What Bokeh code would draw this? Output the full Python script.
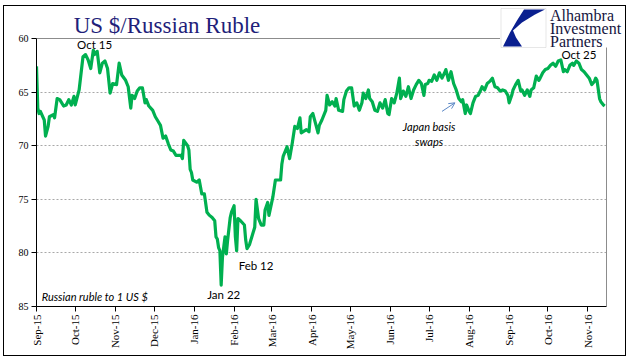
import pandas as pd
from math import pi
from bokeh.plotting import figure
from bokeh.layouts import column
from bokeh.models import (Range1d, FixedTicker, MonthsTicker, DatetimeTickFormatter,
                          Label, Arrow, OpenHead, BoxAnnotation, PolyAnnotation,
                          ColumnDataSource, Grid)
from bokeh.embed import file_html
from bokeh.resources import INLINE

# ---------------- data ----------------
dates = [
    "2015-09-01", "2015-09-02", "2015-09-03", "2015-09-04", "2015-09-07", "2015-09-08",
    "2015-09-10", "2015-09-11", "2015-09-14", "2015-09-15", "2015-09-17", "2015-09-19",
    "2015-09-22", "2015-09-24", "2015-09-26", "2015-09-28", "2015-09-30",
    "2015-10-01", "2015-10-04", "2015-10-07", "2015-10-09", "2015-10-11", "2015-10-13",
    "2015-10-15", "2015-10-16", "2015-10-18", "2015-10-20", "2015-10-22", "2015-10-24",
    "2015-10-26", "2015-10-28", "2015-10-30",
    "2015-11-02", "2015-11-04", "2015-11-06", "2015-11-09", "2015-11-11", "2015-11-13",
    "2015-11-14", "2015-11-16", "2015-11-18", "2015-11-20", "2015-11-22", "2015-11-24",
    "2015-11-25", "2015-11-27", "2015-11-30",
    "2015-12-02", "2015-12-04", "2015-12-06", "2015-12-08", "2015-12-10", "2015-12-12",
    "2015-12-14", "2015-12-16", "2015-12-18", "2015-12-22", "2015-12-23", "2015-12-24",
    "2015-12-27", "2015-12-28", "2015-12-29", "2015-12-30", "2015-12-31",
    "2016-01-03", "2016-01-05", "2016-01-07", "2016-01-09", "2016-01-11", "2016-01-13",
    "2016-01-15", "2016-01-17", "2016-01-18", "2016-01-19", "2016-01-20", "2016-01-21",
    "2016-01-22", "2016-01-23", "2016-01-25", "2016-01-26", "2016-01-27", "2016-01-29",
    "2016-01-30",
    "2016-02-01", "2016-02-02", "2016-02-03", "2016-02-04", "2016-02-06", "2016-02-09",
    "2016-02-10", "2016-02-11", "2016-02-13", "2016-02-15", "2016-02-17", "2016-02-18",
    "2016-02-20", "2016-02-22", "2016-02-24", "2016-02-25", "2016-02-27", "2016-02-28",
    "2016-03-02", "2016-03-04", "2016-03-08", "2016-03-09", "2016-03-10", "2016-03-13",
    "2016-03-15", "2016-03-17", "2016-03-19", "2016-03-21", "2016-03-23", "2016-03-24",
    "2016-03-28", "2016-03-30", "2016-03-31",
    "2016-04-02", "2016-04-04", "2016-04-06", "2016-04-07", "2016-04-09", "2016-04-12",
    "2016-04-13", "2016-04-15", "2016-04-17", "2016-04-19", "2016-04-20", "2016-04-22",
    "2016-04-25", "2016-04-26", "2016-04-28", "2016-04-30",
    "2016-05-02", "2016-05-04", "2016-05-06", "2016-05-08", "2016-05-10", "2016-05-11",
    "2016-05-13", "2016-05-15", "2016-05-16", "2016-05-18", "2016-05-20", "2016-05-22",
    "2016-05-24", "2016-05-26", "2016-05-28", "2016-05-30", "2016-05-31",
    "2016-06-02", "2016-06-04", "2016-06-06", "2016-06-08", "2016-06-09", "2016-06-11",
    "2016-06-13", "2016-06-15", "2016-06-17", "2016-06-19", "2016-06-21", "2016-06-23",
    "2016-06-25", "2016-06-27", "2016-06-28", "2016-06-30",
    "2016-07-01", "2016-07-03", "2016-07-05", "2016-07-07", "2016-07-09", "2016-07-11",
    "2016-07-13", "2016-07-14", "2016-07-16", "2016-07-18", "2016-07-20", "2016-07-22",
    "2016-07-24", "2016-07-26", "2016-07-27", "2016-07-29", "2016-07-30",
    "2016-08-01", "2016-08-02", "2016-08-04", "2016-08-06", "2016-08-08", "2016-08-10",
    "2016-08-11", "2016-08-13", "2016-08-15", "2016-08-17", "2016-08-19", "2016-08-21",
    "2016-08-23", "2016-08-25", "2016-08-27", "2016-08-29", "2016-08-31",
    "2016-09-01", "2016-09-03", "2016-09-04", "2016-09-06", "2016-09-08", "2016-09-10",
    "2016-09-11", "2016-09-13", "2016-09-15", "2016-09-17", "2016-09-18", "2016-09-20",
    "2016-09-22", "2016-09-24", "2016-09-25", "2016-09-27", "2016-09-29",
    "2016-10-01", "2016-10-03", "2016-10-05", "2016-10-07", "2016-10-09", "2016-10-11",
    "2016-10-13", "2016-10-14", "2016-10-16", "2016-10-18", "2016-10-20", "2016-10-21",
    "2016-10-23", "2016-10-25", "2016-10-27", "2016-10-29", "2016-10-31",
    "2016-11-02", "2016-11-04", "2016-11-06", "2016-11-07", "2016-11-08", "2016-11-10",
    "2016-11-11", "2016-11-13", "2016-11-14",
]
rate = [
    62.6, 66.5, 67.0, 66.8, 67.6, 69.1, 68.2, 67.3, 67.1, 67.4, 65.6, 65.7,
    66.3, 66.2, 65.7, 66.2, 65.4,
    66.2, 64.8, 61.7, 61.5, 62.0, 62.8, 61.1, 61.5, 61.2, 63.2, 62.3, 62.1,
    62.8, 65.1, 64.2,
    64.3, 62.3, 63.4, 63.9, 64.5, 66.5, 65.3, 65.6, 64.9, 64.6, 64.6, 66.0,
    65.7, 66.3, 66.7,
    67.3, 67.7, 68.1, 69.3, 69.1, 69.8, 70.4, 70.5, 70.9, 70.9, 71.2, 69.5,
    70.0, 70.4, 72.2, 72.5, 73.2,
    73.4, 73.2, 74.5, 74.5, 76.2, 76.5, 76.7, 77.0, 78.5, 78.7, 79.5, 79.8,
    83.0, 80.4, 78.5, 80.1, 78.8, 76.7, 76.2,
    75.6, 78.5, 79.8, 76.8, 77.0, 77.4, 78.8, 79.6, 79.2, 78.4, 77.6, 75.0,
    76.8, 77.4, 77.4, 76.0, 75.3, 76.5,
    74.8, 73.2, 73.2, 71.7, 71.0, 70.1, 71.2, 69.8, 68.2, 68.4, 67.4, 68.8,
    68.5, 68.7, 67.3,
    67.0, 67.9, 68.8, 68.1, 67.6, 66.7, 65.3, 66.2, 65.9, 66.3, 65.6, 66.7,
    66.8, 65.7, 64.9, 64.6,
    64.6, 66.3, 66.0, 66.7, 66.0, 65.1, 65.6, 64.8, 65.6, 65.9, 66.7, 66.8,
    66.0, 66.5, 65.7, 67.0, 67.1,
    65.6, 66.0, 65.1, 63.7, 65.6, 64.9, 65.4, 64.5, 65.6, 64.8, 64.3, 63.9,
    64.2, 65.3, 64.3, 64.2,
    63.9, 64.0, 63.4, 63.9, 63.2, 63.7, 63.2, 62.9, 63.9, 63.1, 64.2, 64.8,
    65.6, 65.9, 65.7, 67.0, 66.2,
    66.8, 67.0, 66.0, 65.4, 65.3, 64.8, 64.5, 64.8, 64.2, 64.0, 63.7, 64.5,
    64.6, 64.9, 64.8, 64.9, 65.3,
    66.0, 65.3, 64.8, 64.3, 63.9, 64.9, 64.8, 65.3, 64.8, 65.4, 64.8, 64.6,
    63.5, 63.9, 63.7, 63.2, 62.9,
    62.8, 62.5, 62.3, 62.6, 62.1, 62.0, 63.1, 62.9, 63.1, 62.5, 62.3, 62.5,
    62.1, 62.3, 62.9, 63.1, 63.4,
    63.7, 64.3, 64.0, 63.7, 63.9, 65.6, 65.9, 66.2, 66.3,
]

y_ticks = [60, 65, 70, 75, 80, 85]
y_top, y_bottom = 60, 85
x_first = "2015-09-01"
x_last = "2016-11-15"

title_text = "US $/Russian Ruble"
unit_note = "Russian ruble to 1 US $"
note_date, note_value = "2015-09-05", 84.1
callout_texts = ["Oct 15", "Jan 22", "Feb 12", "Oct 25"]
callout_dates = ["2015-10-16", "2016-01-24", "2016-02-18", "2016-10-25"]
callout_values = [60.55, 83.9, 81.2, 61.5]
swap_lines = ["Japan basis", "swaps"]
swap_date = "2016-07-01"
swap_values = [68.2, 69.6]
arrow_dates = ["2016-07-11", "2016-07-21"]
arrow_values = [66.8, 66.0]
logo_lines = ["Alhambra", "Investment", "Partners"]


def ms(d):
    return pd.Timestamp(d).value / 1e6


# ---------------- layout (pixels, page coordinates) ----------------
OX, OY = 4.5, 6.0            # canvas origin inside the bordered wrapper
W, H = 621, 349
AREA_L, AREA_R, AREA_T, AREA_B = 36 - OX, 606 - OX, 38 - OY, 306 - OY
FRAME_T, FRAME_R = 1, W - 2


def cx(x):
    return x - OX


def cy(y):
    return y - OY


x0, x1 = ms(x_first), ms(x_last)
x_per_px = (x1 - x0) / (AREA_R - AREA_L)
y_per_px = (y_bottom - y_top) / (AREA_B - AREA_T)
x_range = Range1d(x0, x1 + (FRAME_R - AREA_R) * x_per_px)
y_range = Range1d(y_bottom, y_top - (AREA_T - FRAME_T) * y_per_px)

src = ColumnDataSource(data=dict(date=pd.to_datetime(dates), rate=rate))

p = figure(width=W, height=H, x_axis_type="datetime", x_range=x_range, y_range=y_range,
           output_backend="svg", toolbar_location=None,
           min_border_left=int(round(AREA_L)), min_border_right=W - FRAME_R,
           min_border_top=FRAME_T, min_border_bottom=int(round(H - AREA_B)))
p.background_fill_color = "white"
p.border_fill_color = "white"
p.outline_line_color = None

# axes
p.xaxis.ticker = MonthsTicker(months=list(range(12)))
p.xaxis.formatter = DatetimeTickFormatter(months="%b-%y", days="%b-%y", years="%b-%y")
p.xaxis.major_label_orientation = pi / 2
p.xaxis.major_label_text_font = "Liberation Serif"
p.xaxis.major_label_text_font_size = "11px"
p.xaxis.major_label_standoff = 3
p.xaxis.bounds = (x0, x1)
p.yaxis.ticker = FixedTicker(ticks=y_ticks)
p.yaxis.major_label_text_font = "Liberation Serif"
p.yaxis.major_label_text_font_size = "10px"
p.yaxis.major_label_standoff = 3
p.yaxis.bounds = (y_top, y_bottom)
for ax in (p.xaxis, p.yaxis):
    ax.major_label_text_color = "black"
    ax.axis_line_color = "black"
    ax.axis_line_width = 1
    ax.major_tick_line_color = "black"
    ax.major_tick_out = 5
    ax.major_tick_in = 0
    ax.minor_tick_line_color = None

p.xgrid.grid_line_color = None
p.ygrid.ticker = FixedTicker(ticks=[t for t in y_ticks if t not in (y_top, y_bottom)])
p.ygrid.cross_bounds = (x0, x1)
p.ygrid.grid_line_color = "#a8a8a8"
p.ygrid.grid_line_dash = "2 2"
p.ygrid.grid_line_width = 1
p.add_layout(Grid(dimension=1, ticker=FixedTicker(ticks=[y_top]), cross_bounds=(x0, x1),
                  grid_line_color="#8c8c8c", grid_line_width=1))
p.add_layout(Grid(dimension=0, ticker=FixedTicker(ticks=[x1]),
                  cross_bounds=(y_top, y_bottom),
                  grid_line_color="#8c8c8c", grid_line_width=1))

p.line(x="date", y="rate", source=src, line_color="#00b050", line_width=3.2,
       line_join="round")

# annotations
for t, d, v in zip(callout_texts, callout_dates, callout_values):
    p.add_layout(Label(x=ms(d), y=v, text=t, text_font="Lato", text_font_size="11.5px",
                       text_color="black", text_align="center", text_baseline="middle"))
p.add_layout(Label(x=ms(note_date), y=note_value, text=unit_note, text_font="Lato",
                   text_font_style="italic", text_font_size="11px", text_color="black",
                   text_align="left", text_baseline="middle"))
for t, v in zip(swap_lines, swap_values):
    p.add_layout(Label(x=ms(swap_date), y=v, text=t, text_font="Lato",
                       text_font_style="italic", text_font_size="11px", text_color="black",
                       text_align="center", text_baseline="middle"))
p.add_layout(Arrow(end=OpenHead(size=6, line_color="#5b87c5", line_width=1),
                   x_start=ms(arrow_dates[0]), y_start=arrow_values[0],
                   x_end=ms(arrow_dates[1]), y_end=arrow_values[1],
                   line_color="#5b87c5", line_width=1))

CU = dict(left_units="canvas", right_units="canvas", top_units="canvas",
          bottom_units="canvas")
# logo (white backing, box, mark, text)
p.add_layout(BoxAnnotation(left=cx(500), right=W, top=0, bottom=cy(47), **CU,
                           fill_color="white", fill_alpha=1, line_alpha=0))
p.add_layout(BoxAnnotation(left=cx(501), right=cx(546), top=cy(8), bottom=cy(47), **CU,
                           fill_color="white", fill_alpha=1, line_color="#b0b0b0",
                           line_width=1))
logo_xs = [524, 545, 535, 522, 513, 516, 522, 503, 510, 517]
logo_ys = [9, 9, 14, 22, 30, 37, 46, 46, 32, 20]
p.add_layout(PolyAnnotation(xs=[cx(v) for v in logo_xs], ys=[cy(v) for v in logo_ys],
                            xs_units="canvas", ys_units="canvas",
                            fill_color="#0a1f8f", fill_alpha=1, line_alpha=0))
for i, t in enumerate(logo_lines):
    p.add_layout(Label(x=cx(550), y=cy(15 + 12.8 * i), x_units="canvas", y_units="canvas",
                       text=t, text_font="Liberation Serif", text_font_size="16px",
                       text_color="#141440", text_align="left", text_baseline="middle"))

p.add_layout(Label(x=cx(167), y=cy(25), x_units="canvas", y_units="canvas",
                   text=title_text, text_font="Liberation Serif", text_font_size="23px",
                   text_color="#1f1f7a", text_align="center", text_baseline="middle"))

root = column(p, styles={"border": "1.5px solid black", "margin-left": "3px",
                         "margin-top": "4.5px", "background-color": "white"})

open("out.html", "w").write(file_html(root, INLINE))
